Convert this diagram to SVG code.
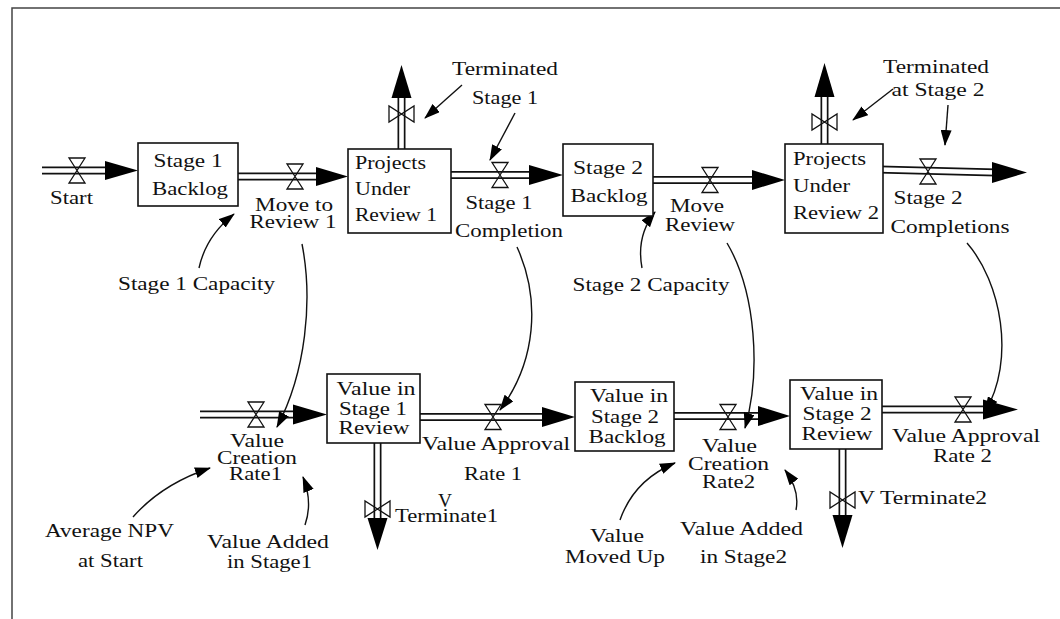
<svg xmlns="http://www.w3.org/2000/svg" width="1060" height="619" viewBox="0 0 1060 619">
<defs>
<style>
.t{font-family:'Liberation Serif',serif;font-size:19px;fill:#111}
.box{fill:#fff;stroke:#111;stroke-width:1.6}
.po{fill:none;stroke:#111;stroke-width:8}
.pi{fill:none;stroke:#fff;stroke-width:4.6}
.ah{fill:#000}
.valve{fill:none;stroke:#111;stroke-width:1.3}
.link{fill:none;stroke:#111;stroke-width:1.4;marker-end:url(#arr)}
.frame{fill:none;stroke:#444;stroke-width:1.5}
</style>
<marker id="arr" viewBox="0 0 16 11" refX="15" refY="5.5" markerWidth="16" markerHeight="11" markerUnits="userSpaceOnUse" orient="auto">
<path d="M0,0 L16,5.5 L0,11 Z" fill="#000"/>
</marker>
<path id="vh" d="M-8,-12.5 H8 L-8,12.5 H8 Z"/>
<path id="vv" d="M-12.5,-8 V8 L12.5,-8 V8 Z"/>
</defs>
<rect width="1060" height="619" fill="#fff"/>
<path class="frame" d="M12,619 V8 H1060"/>

<g id="connectors">
<path class="po" d="M42,170.5 H110"/><path class="pi" d="M42,170.5 H110"/>
<path class="po" d="M238,176.5 H320"/><path class="pi" d="M238,176.5 H320"/>
<path class="po" d="M451,175 H533"/><path class="pi" d="M451,175 H533"/>
<path class="po" d="M653,180 H756"/><path class="pi" d="M653,180 H756"/>
<path class="po" d="M879,169.5 L996,172.5"/><path class="pi" d="M879,169.5 L996,172.5"/>
<path class="po" d="M200,414.5 H297"/><path class="pi" d="M200,414.5 H297"/>
<path class="po" d="M420,417 H546"/><path class="pi" d="M420,417 H546"/>
<path class="po" d="M674,416 H762"/><path class="pi" d="M674,416 H762"/>
<path class="po" d="M882,409.5 H987"/><path class="pi" d="M882,409.5 H987"/>
<path class="po" d="M401.5,149 V94"/><path class="pi" d="M401.5,149 V94"/>
<path class="po" d="M824.5,144 V93"/><path class="pi" d="M824.5,144 V93"/>
<path class="po" d="M377.5,443 V522"/><path class="pi" d="M377.5,443 V522"/>
<path class="po" d="M842.5,449 V519"/><path class="pi" d="M842.5,449 V519"/>
<polygon class="ah" points="105,161 138,170.5 105,180"/>
<polygon class="ah" points="316,167 348,176.5 316,186"/>
<polygon class="ah" points="529,165 563,175 529,185"/>
<polygon class="ah" points="752,170 785,180 752,190"/>
<polygon class="ah" points="992,162 1027,172.5 992,183"/>
<polygon class="ah" points="293,404.5 327,414.5 293,424.5"/>
<polygon class="ah" points="542,407 575,417 542,427"/>
<polygon class="ah" points="758,406 790,416 758,426"/>
<polygon class="ah" points="983,399.5 1018,409.5 983,419.5"/>
<polygon class="ah" points="391.5,98 401.5,65 411.5,98"/>
<polygon class="ah" points="814.5,97 824.5,63 834.5,97"/>
<polygon class="ah" points="367.5,518 377.5,550 387.5,518"/>
<polygon class="ah" points="832.5,515 842.5,548 852.5,515"/>
<path class="link" d="M199,268 Q206,236 234,214"/>
<path class="link" d="M462,85 L425,118"/>
<path class="link" d="M515,113 L490,160"/>
<path class="link" d="M642,268 Q636,236 655,212"/>
<path class="link" d="M893,89 L853,120"/>
<path class="link" d="M948,105 L945,145"/>
<path class="link" d="M302,244 C313,300 306,372 277,427"/>
<path class="link" d="M517,247 C541,300 536,362 500,410"/>
<path class="link" d="M727,243 C756,292 761,372 745,428"/>
<path class="link" d="M967,243 C1001,282 1016,360 985,412"/>
<path class="link" d="M133,517 Q162,484 210,468"/>
<path class="link" d="M305,525 Q313,502 303,477"/>
<path class="link" d="M620,520 Q634,480 675,463"/>
<path class="link" d="M796,510 Q800,490 785,470"/>
</g>

<g id="stock-stage1-backlog">
<rect class="box" x="138" y="143" width="100" height="63"/>
<text class="t" x="188" y="167" text-anchor="middle" textLength="69" lengthAdjust="spacingAndGlyphs">Stage 1</text>
<text class="t" x="190" y="195" text-anchor="middle" textLength="76" lengthAdjust="spacingAndGlyphs">Backlog</text>
</g>
<g id="stock-projects-under-review-1">
<rect class="box" x="348" y="149" width="103" height="84"/>
<text class="t" x="355" y="169" textLength="71" lengthAdjust="spacingAndGlyphs">Projects</text>
<text class="t" x="355" y="195" textLength="55" lengthAdjust="spacingAndGlyphs">Under</text>
<text class="t" x="355" y="221" textLength="82" lengthAdjust="spacingAndGlyphs">Review 1</text>
</g>
<g id="stock-stage2-backlog">
<rect class="box" x="563" y="144" width="90" height="72"/>
<text class="t" x="608" y="174" text-anchor="middle" textLength="70" lengthAdjust="spacingAndGlyphs">Stage 2</text>
<text class="t" x="609" y="202" text-anchor="middle" textLength="77" lengthAdjust="spacingAndGlyphs">Backlog</text>
</g>
<g id="stock-projects-under-review-2">
<rect class="box" x="785" y="144" width="98" height="89"/>
<text class="t" x="793" y="165" textLength="73" lengthAdjust="spacingAndGlyphs">Projects</text>
<text class="t" x="793" y="192" textLength="57" lengthAdjust="spacingAndGlyphs">Under</text>
<text class="t" x="793" y="219" textLength="86" lengthAdjust="spacingAndGlyphs">Review 2</text>
</g>
<g id="stock-value-stage1-review">
<rect class="box" x="327" y="374" width="93" height="69"/>
<text class="t" x="376" y="395" text-anchor="middle" textLength="79" lengthAdjust="spacingAndGlyphs">Value in</text>
<text class="t" x="373" y="415" text-anchor="middle" textLength="68" lengthAdjust="spacingAndGlyphs">Stage 1</text>
<text class="t" x="374" y="434" text-anchor="middle" textLength="71" lengthAdjust="spacingAndGlyphs">Review</text>
</g>
<g id="stock-value-stage2-backlog">
<rect class="box" x="575" y="382" width="99" height="69"/>
<text class="t" x="629" y="402" text-anchor="middle" textLength="78" lengthAdjust="spacingAndGlyphs">Value in</text>
<text class="t" x="625" y="423" text-anchor="middle" textLength="68" lengthAdjust="spacingAndGlyphs">Stage 2</text>
<text class="t" x="627" y="443" text-anchor="middle" textLength="77" lengthAdjust="spacingAndGlyphs">Backlog</text>
</g>
<g id="stock-value-stage2-review">
<rect class="box" x="790" y="380" width="92" height="69"/>
<text class="t" x="839" y="400" text-anchor="middle" textLength="78" lengthAdjust="spacingAndGlyphs">Value in</text>
<text class="t" x="837" y="420" text-anchor="middle" textLength="69" lengthAdjust="spacingAndGlyphs">Stage 2</text>
<text class="t" x="837" y="440" text-anchor="middle" textLength="71" lengthAdjust="spacingAndGlyphs">Review</text>
</g>

<g id="flow-start">
<use href="#vh" class="valve" x="77" y="170.5"/>
<text class="t" x="71.5" y="204" text-anchor="middle" textLength="43" lengthAdjust="spacingAndGlyphs">Start</text>
</g>
<g id="flow-move-to-review-1">
<use href="#vh" class="valve" x="295" y="176.5"/>
<text class="t" x="294" y="211" text-anchor="middle" textLength="78" lengthAdjust="spacingAndGlyphs">Move to</text>
<text class="t" x="293" y="228" text-anchor="middle" textLength="87" lengthAdjust="spacingAndGlyphs">Review 1</text>
</g>
<g id="flow-terminated-stage-1">
<use href="#vv" class="valve" x="401.5" y="114"/>
<text class="t" x="505" y="75" text-anchor="middle" textLength="106" lengthAdjust="spacingAndGlyphs">Terminated</text>
<text class="t" x="505" y="104" text-anchor="middle" textLength="66" lengthAdjust="spacingAndGlyphs">Stage 1</text>
</g>
<g id="flow-stage1-completion">
<use href="#vh" class="valve" x="500" y="175"/>
<text class="t" x="499" y="209" text-anchor="middle" textLength="67" lengthAdjust="spacingAndGlyphs">Stage 1</text>
<text class="t" x="509" y="237" text-anchor="middle" textLength="108" lengthAdjust="spacingAndGlyphs">Completion</text>
</g>
<g id="flow-move-review">
<use href="#vh" class="valve" x="710" y="180"/>
<text class="t" x="697" y="212" text-anchor="middle" textLength="54" lengthAdjust="spacingAndGlyphs">Move</text>
<text class="t" x="700" y="231" text-anchor="middle" textLength="70" lengthAdjust="spacingAndGlyphs">Review</text>
</g>
<g id="flow-terminated-stage-2">
<use href="#vv" class="valve" x="824.5" y="122"/>
<text class="t" x="936" y="73" text-anchor="middle" textLength="106" lengthAdjust="spacingAndGlyphs">Terminated</text>
<text class="t" x="938" y="96" text-anchor="middle" textLength="93" lengthAdjust="spacingAndGlyphs">at Stage 2</text>
</g>
<g id="flow-stage2-completions">
<use href="#vh" class="valve" x="928" y="171.5"/>
<text class="t" x="928" y="204" text-anchor="middle" textLength="69" lengthAdjust="spacingAndGlyphs">Stage 2</text>
<text class="t" x="950" y="233" text-anchor="middle" textLength="119" lengthAdjust="spacingAndGlyphs">Completions</text>
</g>
<g id="flow-value-creation-rate1">
<use href="#vh" class="valve" x="256" y="414.5"/>
<text class="t" x="257" y="447" text-anchor="middle" textLength="54" lengthAdjust="spacingAndGlyphs">Value</text>
<text class="t" x="257" y="464" text-anchor="middle" textLength="80" lengthAdjust="spacingAndGlyphs">Creation</text>
<text class="t" x="255.5" y="480" text-anchor="middle" textLength="53" lengthAdjust="spacingAndGlyphs">Rate1</text>
</g>
<g id="flow-value-approval-rate-1">
<use href="#vh" class="valve" x="493" y="417"/>
<text class="t" x="496" y="450" text-anchor="middle" textLength="148" lengthAdjust="spacingAndGlyphs">Value Approval</text>
<text class="t" x="493" y="480" text-anchor="middle" textLength="58" lengthAdjust="spacingAndGlyphs">Rate 1</text>
</g>
<g id="flow-v-terminate1">
<use href="#vv" class="valve" x="377.5" y="509"/>
<text class="t" x="445" y="507" text-anchor="middle" textLength="14" lengthAdjust="spacingAndGlyphs">V</text>
<text class="t" x="446.5" y="522" text-anchor="middle" textLength="103" lengthAdjust="spacingAndGlyphs">Terminate1</text>
</g>
<g id="flow-value-creation-rate2">
<use href="#vh" class="valve" x="728" y="417"/>
<text class="t" x="729.5" y="452" text-anchor="middle" textLength="55" lengthAdjust="spacingAndGlyphs">Value</text>
<text class="t" x="728.5" y="470" text-anchor="middle" textLength="81" lengthAdjust="spacingAndGlyphs">Creation</text>
<text class="t" x="728.5" y="488" text-anchor="middle" textLength="53" lengthAdjust="spacingAndGlyphs">Rate2</text>
</g>
<g id="flow-value-approval-rate-2">
<use href="#vh" class="valve" x="963" y="409.5"/>
<text class="t" x="966" y="442" text-anchor="middle" textLength="148" lengthAdjust="spacingAndGlyphs">Value Approval</text>
<text class="t" x="962.5" y="462" text-anchor="middle" textLength="59" lengthAdjust="spacingAndGlyphs">Rate 2</text>
</g>
<g id="flow-v-terminate2">
<use href="#vv" class="valve" x="842.5" y="500"/>
<text class="t" x="858" y="504" textLength="129" lengthAdjust="spacingAndGlyphs">V Terminate2</text>
</g>

<g id="aux-stage1-capacity">
<text class="t" x="196.5" y="290" text-anchor="middle" textLength="157" lengthAdjust="spacingAndGlyphs">Stage 1 Capacity</text>
</g>
<g id="aux-stage2-capacity">
<text class="t" x="651" y="291" text-anchor="middle" textLength="157" lengthAdjust="spacingAndGlyphs">Stage 2 Capacity</text>
</g>
<g id="aux-average-npv">
<text class="t" x="109.5" y="537" text-anchor="middle" textLength="129" lengthAdjust="spacingAndGlyphs">Average NPV</text>
<text class="t" x="110.5" y="567" text-anchor="middle" textLength="65" lengthAdjust="spacingAndGlyphs">at Start</text>
</g>
<g id="aux-value-added-stage1">
<text class="t" x="268" y="548" text-anchor="middle" textLength="122" lengthAdjust="spacingAndGlyphs">Value Added</text>
<text class="t" x="269.5" y="568" text-anchor="middle" textLength="85" lengthAdjust="spacingAndGlyphs">in Stage1</text>
</g>
<g id="aux-value-moved-up">
<text class="t" x="617" y="542" text-anchor="middle" textLength="54" lengthAdjust="spacingAndGlyphs">Value</text>
<text class="t" x="615" y="563" text-anchor="middle" textLength="100" lengthAdjust="spacingAndGlyphs">Moved Up</text>
</g>
<g id="aux-value-added-stage2">
<text class="t" x="741.5" y="535" text-anchor="middle" textLength="123" lengthAdjust="spacingAndGlyphs">Value Added</text>
<text class="t" x="743.5" y="563" text-anchor="middle" textLength="87" lengthAdjust="spacingAndGlyphs">in Stage2</text>
</g>
</svg>
